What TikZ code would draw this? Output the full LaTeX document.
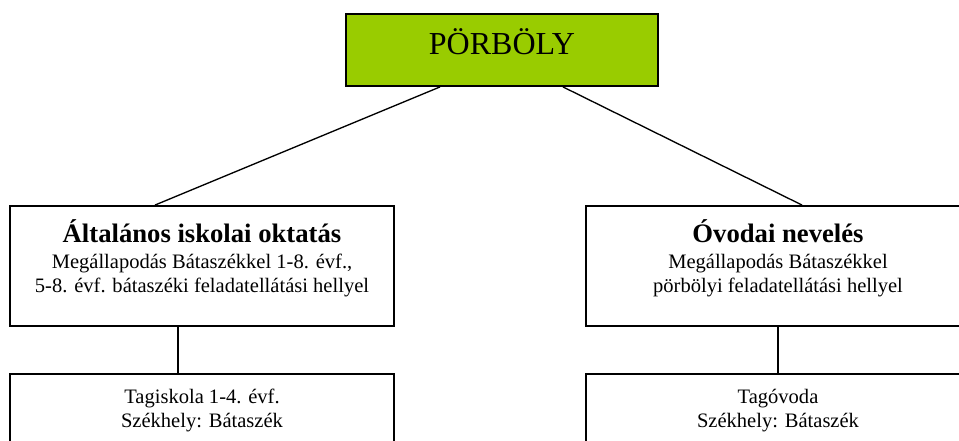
\documentclass[tikz,border=0pt]{standalone}
\usepackage{fontspec}
\setmainfont{Liberation Serif}
\usetikzlibrary{calc, positioning}

\definecolor{rootgreen}{HTML}{99CC00}

\newcommand{\bodyfont}{\fontsize{15.4}{18}\selectfont}
\newcommand{\headfont}{\fontsize{20}{22}\selectfont\bfseries}

\begin{document}
\begin{tikzpicture}[x=0.75pt, y=-0.75pt,
		box/.style={draw, line width=1.4pt, inner sep=0pt, minimum width=288pt, minimum height=90pt},
		boxtext/.style={inner sep=0pt, align=center, font=\bodyfont},
		link/.style={line width=1pt}]
		
		\useasboundingbox (0,0) rectangle (959,441);
		\clip (0,0) rectangle (959,441);
		
		\node[box, fill=rootgreen, minimum width=234pt, minimum height=54pt,
			text height=20pt, text depth=12.5pt, font=\fontsize{24}{28}\selectfont] (root) at (502,50) {PÖRBÖLY};
		
		\node[box] (iskola) at (202,266) {};
		\node[box] (ovoda) at (778,266) {};
		\node[box] (tagiskola) at (202,434) {};
		\node[box] (tagovoda) at (778,434) {};
		
		\node[boxtext, below=11pt of iskola.north] (iskolatext)
			{{\headfont Általános iskolai oktatás}\\[1.5pt]
			 Megállapodás Bátaszékkel 1-8. évf.,\\
			 5-8. évf. bátaszéki feladatellátási hellyel};
		\node[boxtext, below=11pt of ovoda.north] (ovodatext)
			{{\headfont Óvodai nevelés}\\[1.5pt]
			 Megállapodás Bátaszékkel\\
			 pörbölyi feladatellátási hellyel};
		\node[boxtext, below=12pt of tagiskola.north] (tagiskolatext)
			{Tagiskola 1-4. évf.\\ Székhely: Bátaszék};
		\node[boxtext, below=12pt of tagovoda.north] (tagovodatext)
			{Tagóvoda\\ Székhely: Bátaszék};
		
		\draw[link] ($(root.south)+(-62,0)$) -- ($(iskola.north)+(-47,0)$);
		\draw[link] ($(root.south)+(61,0)$) -- ($(ovoda.north)+(24,0)$);
		\draw[link] ($(iskola.south)+(-24,0)$) -- ($(tagiskola.north)+(-24,0)$);
		\draw[link] (ovoda.south) -- (tagovoda.north);
	\end{tikzpicture}
\end{document}
